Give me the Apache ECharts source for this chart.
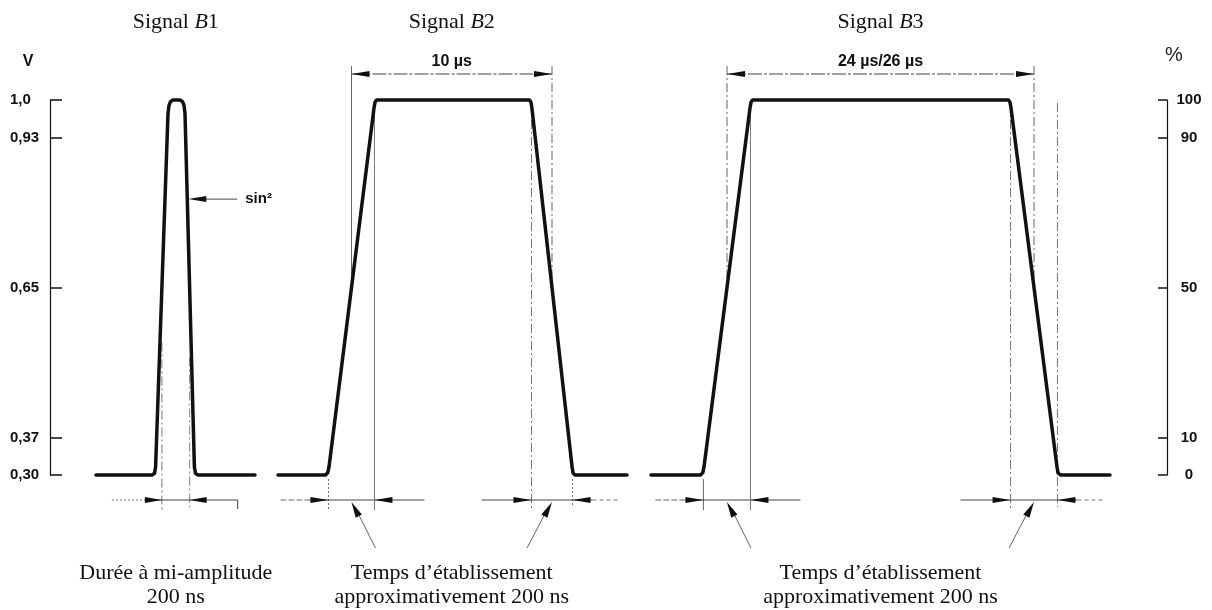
<!DOCTYPE html>
<html>
<head>
<meta charset="utf-8">
<script src="https://cdn.jsdelivr.net/npm/echarts@6/dist/echarts.min.js"></script>
<style>
  html, body { margin: 0; padding: 0; background: #fff; }
  #chart { width: 1212px; height: 610px; }
</style>
</head>
<body>
<div id="chart"></div>
<script>
// Test signal waveforms B1, B2, B3.
// x: position along the drawing (arbitrary time units, not to scale between signals)
// y: signal level in volts (0,30 V = 0 %, 1,0 V = 100 %)
const signalB1 = [
  [46, 0.30], [102, 0.30], [104.5, 0.303], [105.6, 0.315],
  [118, 0.975], [119, 0.99], [120.5, 0.997], [123, 1.0], [130, 1.0],
  [132.5, 0.997], [134, 0.99], [135, 0.975],
  [144.4, 0.315], [145.5, 0.303], [148, 0.30], [205, 0.30]
];
const signalB2 = [
  [228, 0.30], [275.5, 0.30], [277.7, 0.304], [279.0, 0.315],
  [324.0, 0.985], [325.0, 0.996], [326.5, 1.0], [479.5, 1.0],
  [481.0, 0.996], [481.9, 0.985],
  [522.1, 0.315], [523.0, 0.304], [525.0, 0.30], [577, 0.30]
];
const signalB3 = [
  [601, 0.30], [650.5, 0.30], [652.7, 0.304], [654.0, 0.315],
  [700.0, 0.985], [701.0, 0.996], [702.5, 1.0], [958.5, 1.0],
  [960.0, 0.996], [961.0, 0.985],
  [1007.0, 0.315], [1008.0, 0.304], [1010.5, 0.30], [1060, 0.30]
];

// Axis ticks
const voltTicks = [0.30, 0.37, 0.65, 0.93, 1.0];
const voltTickLabels = ['0,30', '0,37', '0,65', '0,93', '1,0'];
const percentTicks = [0, 10, 50, 90, 100];
const percentTickLabels = ['0', '10', '50', '90', '100'];

// Texts
const signalNames = ['B1', 'B2', 'B3'];
const pulseWidthLabels = ['10 µs', '24 µs/26 µs'];
const halfAmplitudeText = ['Durée à mi-amplitude', '200 ns'];
const riseTimeText = ['Temps d’établissement', 'approximativement 200 ns'];
const shapeLabel = 'sin²';

const HALF_LEVEL = 0.65;   // 50 % level
const FOOT_LEVEL = 0.31;
const SHOULDER_LEVEL = 0.99;
const SIN_MARK_LEVEL = 0.815;

const INK = '#111';
const THIN = '#444';
const SERIF = '"Liberation Serif", "Times New Roman", serif';
const SANS = '"Liberation Sans", Arial, sans-serif';

function labelFor(values, labels) {
  return function (v) {
    const i = values.findIndex(t => Math.abs(t - v) < 1e-9);
    return i >= 0 ? labels[i] : '';
  };
}

function waveSeries(name, data) {
  return {
    name: name,
    type: 'line',
    data: data,
    xAxisIndex: 0,
    yAxisIndex: 0,
    symbol: 'none',
    showSymbol: false,
    clip: false,
    silent: true,
    emphasis: { disabled: true },
    lineStyle: { color: INK, width: 3.5, join: 'round', cap: 'round' }
  };
}

const chart = echarts.init(document.getElementById('chart'), null, { renderer: 'canvas' });

chart.setOption({
  animation: false,
  backgroundColor: '#fff',
  grid: { left: 50, right: 45, top: 100, bottom: 135 },
  xAxis: { type: 'value', min: 0, max: 1117, show: false },
  yAxis: [
    {
      type: 'value', min: 0.30, max: 1.0, position: 'left',
      axisLine: { show: true, lineStyle: { color: INK, width: 1.2 } },
      axisTick: { show: true, inside: true, length: 12, customValues: voltTicks,
                  lineStyle: { color: INK, width: 1.5 } },
      axisLabel: { customValues: voltTicks, formatter: labelFor(voltTicks, voltTickLabels),
                   align: 'left', margin: 40, color: INK,
                   fontFamily: SANS, fontWeight: 'bold', fontSize: 15 },
      splitLine: { show: false }
    },
    {
      type: 'value', min: 0, max: 100, position: 'right',
      axisLine: { show: true, lineStyle: { color: INK, width: 1.2 } },
      axisTick: { show: true, inside: true, length: 9, customValues: percentTicks,
                  lineStyle: { color: INK, width: 1.5 } },
      axisLabel: { customValues: percentTicks, formatter: labelFor(percentTicks, percentTickLabels),
                   align: 'center', margin: 22, color: INK,
                   fontFamily: SANS, fontWeight: 'bold', fontSize: 15 },
      splitLine: { show: false }
    }
  ],
  series: [
    waveSeries('B1', signalB1),
    waveSeries('B2', signalB2),
    waveSeries('B3', signalB3)
  ]
});

// ---- Annotation layer (dimension lines, arrows, captions) ----
const toPx = (x, v) => chart.convertToPixel({ xAxisIndex: 0, yAxisIndex: 0 }, [x, v]);
const pxX = x => toPx(x, 0.65)[0];
const pxY = v => toPx(0, v)[1];

// x positions where a waveform crosses a given level
function crossings(data, level) {
  const out = [];
  for (let i = 1; i < data.length; i++) {
    const [x0, y0] = data[i - 1];
    const [x1, y1] = data[i];
    if ((y0 < level && y1 >= level) || (y0 > level && y1 <= level)) {
      out.push(x0 + (level - y0) / (y1 - y0) * (x1 - x0));
    }
  }
  return out;
}

const DASH_DOT = [9, 3, 2, 3];
const DOTTED = [2, 2];
const G = [];

function seg(x1, y1, x2, y2, dash, color, width) {
  G.push({
    type: 'line', silent: true,
    shape: { x1: x1, y1: y1, x2: x2, y2: y2 },
    style: { stroke: color || THIN, lineWidth: width || 1, lineDash: dash || null }
  });
}
function arrowHead(tx, ty, fromX, fromY, len, half) {
  const dx = tx - fromX, dy = ty - fromY;
  const d = Math.hypot(dx, dy) || 1;
  const ux = dx / d, uy = dy / d;
  const bx = tx - ux * len, by = ty - uy * len;
  G.push({
    type: 'polygon', silent: true,
    shape: { points: [[tx, ty], [bx - uy * half, by + ux * half], [bx + uy * half, by - ux * half]] },
    style: { fill: INK }
  });
}
function text(x, y, str, opts) {
  G.push({
    type: 'text', silent: true, x: x, y: y,
    style: Object.assign({
      text: str, fill: INK, align: 'center', verticalAlign: 'middle',
      fontFamily: SERIF, fontSize: 22
    }, opts || {})
  });
}

const yBase = pxY(0.30);
const yTop = pxY(1.0);
const yHalf = pxY(HALF_LEVEL);
const yDim = yBase + 25;
const yTopDim = 74;
const yCaption1 = 573;
const yCaption2 = 597;

const signals = [signalB1, signalB2, signalB3];
const centers = signals.map(s => {
  const h = crossings(s, HALF_LEVEL);
  return (pxX(h[0]) + pxX(h[h.length - 1])) / 2;
});

// Titles "Signal Bn"
signalNames.forEach((n, i) => {
  G.push({
    type: 'text', silent: true, x: centers[i], y: 22,
    style: {
      text: '{a|Signal }{b|' + n.charAt(0) + '}{a|' + n.slice(1) + '}',
      align: 'center', verticalAlign: 'middle',
      rich: {
        a: { fontFamily: SERIF, fontSize: 22, fill: INK },
        b: { fontFamily: SERIF, fontSize: 22, fontStyle: 'italic', fill: INK }
      }
    }
  });
});

// Axis units
text(28, 62, 'V', { fontFamily: SANS, fontWeight: 'bold', fontSize: 16 });
text(1174, 55, '%', { fontFamily: SANS, fontSize: 20, fill: '#222' });

// Signal B1: half-amplitude duration
(function () {
  const h = crossings(signalB1, HALF_LEVEL).map(pxX);
  const xa = h[0], xb = h[1];
  seg(xa, yHalf + 55, xa, yDim + 12, DASH_DOT, '#666', 0.9);
  seg(xb, yHalf + 70, xb, yDim + 8, DASH_DOT, '#777', 0.9);
  seg(xa - 50, yDim, xa - 15, yDim, DOTTED, '#777', 1);
  seg(xa - 15, yDim, xb + 48, yDim, null, THIN, 1);
  seg(xb + 48, yDim, xb + 48, yDim + 9, null, THIN, 1);
  arrowHead(xa, yDim, xa - 20, yDim, 17, 3);
  arrowHead(xb, yDim, xb + 20, yDim, 17, 3);
  text(centers[0], yCaption1, halfAmplitudeText[0]);
  text(centers[0], yCaption2, halfAmplitudeText[1]);

  // sin² marker on the falling edge
  const xs = pxX(crossings(signalB1, SIN_MARK_LEVEL)[1]);
  const ys = pxY(SIN_MARK_LEVEL);
  seg(xs + 10, ys, xs + 50, ys, null, THIN, 1);
  arrowHead(xs + 1, ys, xs + 20, ys, 18, 3);
  text(xs + 58, ys, shapeLabel, { align: 'left', fontFamily: SANS, fontWeight: 'bold', fontSize: 15 });
})();

// Signals B2, B3: pulse width at half amplitude + rise / fall times
[signalB2, signalB3].forEach((s, k) => {
  const half = crossings(s, HALF_LEVEL).map(pxX);
  const foot = crossings(s, FOOT_LEVEL).map(pxX);
  const shoulder = crossings(s, SHOULDER_LEVEL).map(pxX);
  const c = centers[k + 1];

  // pulse width dimension at the top
  seg(half[0], 66, half[0], yHalf, k === 0 ? null : DASH_DOT, '#555', 0.9);
  seg(half[1], 66, half[1], yHalf, DASH_DOT, '#555', 0.9);
  seg(half[0], yTopDim, half[1], yTopDim, [14, 2, 3, 2], '#444', 1);
  arrowHead(half[0], yTopDim, half[0] + 20, yTopDim, 18, 3);
  arrowHead(half[1], yTopDim, half[1] - 20, yTopDim, 18, 3);
  text(c, 62, pulseWidthLabels[k], { fontFamily: SANS, fontWeight: 'bold', fontSize: 16 });

  // rising edge: foot .. shoulder
  const rf = foot[0], rs = shoulder[0];
  seg(rf, yBase + 4, rf, yDim + 10, k === 0 ? DOTTED : null, '#555', 0.9);
  seg(rs, yTop + 3, rs, yDim + 10, null, '#666', 0.9);
  seg(rf - 48, yDim, rf - 18, yDim, [6, 2], '#666', 1);
  seg(rf - 18, yDim, rs + 50, yDim, null, THIN, 1);
  arrowHead(rf, yDim, rf - 20, yDim, 18, 3);
  arrowHead(rs, yDim, rs + 20, yDim, 18, 3);
  const rtip = (rf + rs) / 2;
  seg(rtip + 4, yDim + 8, rtip + 24, yDim + 48, null, '#555', 0.9);
  arrowHead(rtip, yDim + 2, rtip + 24, yDim + 48, 16, 3.5);

  // falling edge: shoulder .. foot
  const fs = shoulder[1], ff = foot[1];
  seg(fs, yTop + 3, fs, yDim + 9, DASH_DOT, '#666', 0.9);
  seg(ff, k === 0 ? yBase + 4 : yTop + 3, ff, yDim + 7, k === 0 ? DOTTED : DASH_DOT, '#666', 0.9);
  seg(fs - 50, yDim, ff + 20, yDim, null, THIN, 1);
  seg(ff + 20, yDim, ff + 48, yDim, [4, 3], '#777', 1);
  arrowHead(fs, yDim, fs - 20, yDim, 18, 3);
  arrowHead(ff, yDim, ff + 20, yDim, 18, 3);
  const ftip = (fs + ff) / 2;
  seg(ftip - 4, yDim + 8, ftip - 25, yDim + 48, null, '#555', 0.9);
  arrowHead(ftip, yDim + 2, ftip - 25, yDim + 48, 16, 3.5);

  text(c, yCaption1, riseTimeText[0]);
  text(c, yCaption2, riseTimeText[1]);
});

chart.setOption({ graphic: { elements: G } });
</script>
</body>
</html>
